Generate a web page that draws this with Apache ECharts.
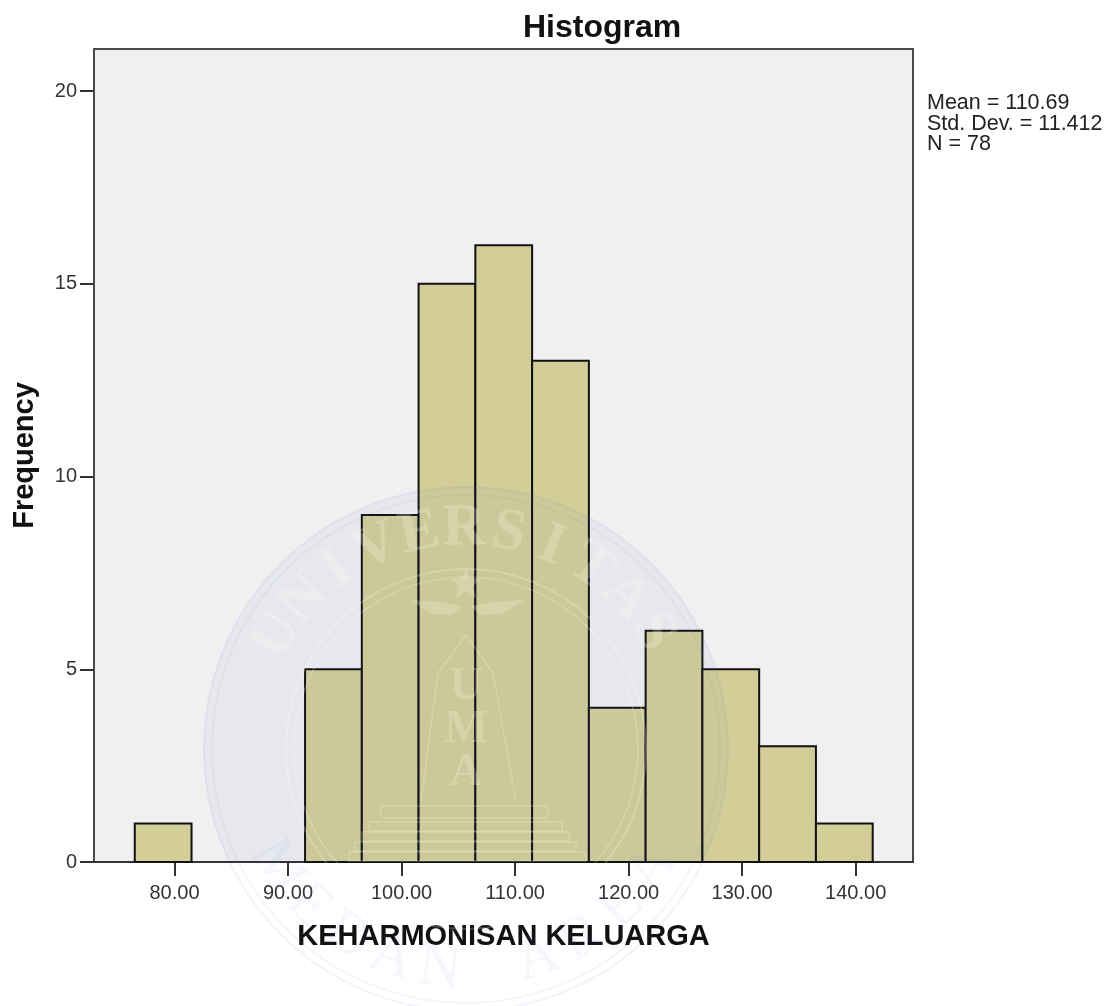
<!DOCTYPE html>
<html>
<head>
<meta charset="utf-8">
<title>Histogram</title>
<style>
    html, body { margin: 0; padding: 0; background: #fff; }
    #chart { width: 1118px; height: 1006px; }
</style>
<script src="https://cdn.jsdelivr.net/npm/echarts@6/dist/echarts.min.js"></script>
</head>
<body>
<div id="chart"></div>
<script>
const binStarts = [76.5, 81.5, 86.5, 91.5, 96.5, 101.5, 106.5, 111.5, 116.5, 121.5, 126.5, 131.5, 136.5];
const frequencies = [1, 0, 0, 5, 9, 15, 16, 13, 4, 6, 5, 3, 1];
const binWidth = 5;
const xTicks = [80, 90, 100, 110, 120, 130, 140];
const yTicks = [0, 5, 10, 15, 20];
const statLines = ['Mean = 110.69', 'Std. Dev. = 11.412', 'N = 78'];

const FONT = '"Liberation Sans", Arial, sans-serif';
const SERIF = '"Liberation Serif", "Times New Roman", serif';

// University stamp sitting faintly over the whole picture
const stampX = 466;
const stampY = 749;
const plotBottom = 862;
const stampLine = 'rgba(110,120,205,0.09)';
const stampText = 'rgba(110,120,205,0.06)';
const stampPale = 'rgba(255,255,235,0.22)';

function stampLetters(word, startAngle, step, radius, fill, flip) {
    return word.split('').map((ch, i) => {
        const deg = startAngle + step * i;
        const rad = deg * Math.PI / 180;
        return {
            type: 'text',
            z: 50,
            silent: true,
            x: stampX + radius * Math.sin(rad),
            y: stampY - radius * Math.cos(rad),
            rotation: (flip ? 180 - deg : -deg) * Math.PI / 180,
            style: {
                text: ch,
                font: (flip ? '' : 'bold ') + '60px ' + SERIF,
                fill: fill,
                align: 'center',
                verticalAlign: 'middle'
            }
        };
    });
}

function stampRing(r, color, width) {
    return {
        type: 'circle',
        z: 49,
        silent: true,
        shape: { cx: stampX, cy: stampY, r: r },
        style: { fill: 'none', stroke: color, lineWidth: width }
    };
}

function stampPiece(type, shape, fill, stroke) {
    return {
        type: type,
        z: 50,
        silent: true,
        shape: shape,
        style: { fill: fill || 'none', stroke: stroke || 'none', lineWidth: 1.5 }
    };
}

function buildStamp() {
    // tint only the part of the disc that is inside the plot
    const disc = [];
    for (let a = 0; a < 360; a += 3) {
        const rad = a * Math.PI / 180;
        disc.push([
            stampX + 262 * Math.cos(rad),
            Math.min(stampY + 262 * Math.sin(rad), plotBottom)
        ]);
    }
    const items = [
        {
            type: 'polygon',
            z: 48,
            silent: true,
            shape: { points: disc },
            style: { fill: 'rgba(80,100,220,0.05)' }
        },
        stampRing(262, stampLine, 2),
        stampRing(254, stampLine, 1.5),
        stampRing(180, stampPale, 2),
        stampRing(172, stampPale, 1.5)
    ];
    items.push(...stampLetters('UNIVERSITAS', -59, 11.7, 220, stampPale, false));
    items.push(...stampLetters('MEDAN AREA', 238, -12.8, 222, stampText, true));
    ['U', 'M', 'A'].forEach((ch, i) => {
        items.push({
            type: 'text',
            z: 50,
            silent: true,
            x: stampX,
            y: 687 + i * 43,
            style: {
                text: ch,
                font: 'bold 46px ' + SERIF,
                fill: stampPale,
                align: 'center',
                verticalAlign: 'middle'
            }
        });
    });
    // star and wings above the shield
    const star = [];
    for (let i = 0; i < 10; i++) {
        const r = i % 2 ? 7 : 17;
        const rad = i * 36 * Math.PI / 180;
        star.push([stampX + r * Math.sin(rad), 584 - r * Math.cos(rad)]);
    }
    items.push(stampPiece('polygon', { points: star }, stampPale));
    items.push(stampPiece('polygon', { points: [[410, 600], [440, 602], [462, 606], [452, 615], [432, 614]] }, stampPale));
    items.push(stampPiece('polygon', { points: [[524, 600], [494, 602], [470, 606], [480, 615], [502, 614]] }, stampPale));
    // shield outline, bead row and the steps under it
    items.push(stampPiece('polyline', {
        points: [[421, 801], [438, 673], [466, 635], [493, 673], [516, 801]]
    }, null, stampPale));
    items.push(stampPiece('rect', { x: 380, y: 806, width: 169, height: 12, r: 6 }, null, stampPale));
    [[369, 822, 193], [362, 832, 207], [355, 842, 221], [349, 852, 237]].forEach(s => {
        items.push(stampPiece('rect', { x: s[0], y: s[1], width: s[2], height: 9 }, null, stampPale));
    });
    return items;
}

const chart = echarts.init(document.getElementById('chart'), null, { renderer: 'canvas' });

chart.setOption({
    animation: false,
    backgroundColor: '#ffffff',
    textStyle: { fontFamily: FONT },
    title: {
        text: 'Histogram',
        left: 518,
        top: 7,
        textStyle: { fontFamily: FONT, fontSize: 32, fontWeight: 'bold', color: '#111' }
    },
    grid: {
        left: 94,
        right: 205,
        top: 49,
        bottom: 144,
        outerBoundsMode: 'none',
        show: true,
        backgroundColor: '#f0f0f0',
        borderColor: '#4a4a4a',
        borderWidth: 2
    },
    xAxis: {
        type: 'value',
        min: 72.91,
        max: 145.05,
        name: 'KEHARMONISAN KELUARGA',
        nameLocation: 'middle',
        nameGap: 60,
        nameTextStyle: { fontFamily: FONT, fontSize: 29, fontWeight: 'bold', color: '#111' },
        splitLine: { show: false },
        axisLine: { show: true, lineStyle: { color: '#333', width: 2 } },
        axisTick: {
            show: true,
            length: 14,
            customValues: xTicks,
            lineStyle: { color: '#333', width: 2 }
        },
        axisLabel: {
            customValues: xTicks,
            margin: 21,
            fontFamily: FONT,
            fontSize: 20,
            color: '#333',
            formatter: v => v.toFixed(2)
        }
    },
    yAxis: {
        type: 'value',
        min: 0,
        max: 21.09,
        name: 'Frequency',
        nameLocation: 'middle',
        nameRotate: 90,
        nameGap: 55,
        nameTextStyle: { fontFamily: FONT, fontSize: 29, fontWeight: 'bold', color: '#111' },
        splitLine: { show: false },
        axisLine: { show: false },
        axisTick: {
            show: true,
            length: 14,
            customValues: yTicks,
            lineStyle: { color: '#333', width: 2 }
        },
        axisLabel: {
            customValues: yTicks,
            margin: 17,
            fontFamily: FONT,
            fontSize: 20,
            color: '#333'
        }
    },
    series: [{
        type: 'custom',
        data: binStarts.map((start, i) => [start, frequencies[i]]),
        encode: { x: 0, y: 1 },
        z: 5,
        renderItem: function (params, api) {
            const start = api.value(0);
            const freq = api.value(1);
            if (!freq) return null;
            const topLeft = api.coord([start, freq]);
            const bottomRight = api.coord([start + binWidth, 0]);
            return {
                type: 'rect',
                shape: {
                    x: topLeft[0],
                    y: topLeft[1],
                    width: bottomRight[0] - topLeft[0],
                    height: bottomRight[1] - topLeft[1]
                },
                style: { fill: '#d3ce97', stroke: '#111', lineWidth: 2 }
            };
        }
    }],
    graphic: [
        {
            type: 'text',
            x: 927,
            y: 93,
            z: 60,
            style: {
                text: statLines.join('\n'),
                font: '21.5px ' + FONT,
                lineHeight: 20.5,
                fill: '#222'
            }
        },
        ...buildStamp()
    ]
});
</script>
</body>
</html>
